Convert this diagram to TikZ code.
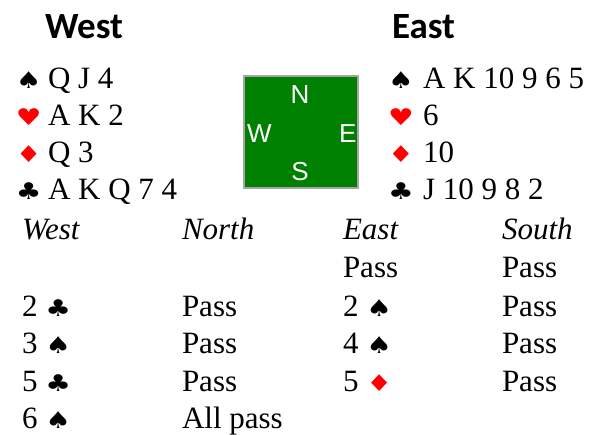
\documentclass[tikz,border=0pt]{standalone}
\usepackage{fontspec}
\setmainfont{Liberation Serif}
\newfontfamily\headfont{Carlito}
\newfontfamily\compassfont{Liberation Sans}
\newfontfamily\suitfont{DejaVu Sans}
\usepackage{graphicx}
\usepackage{xcolor}
\usepackage{tikz}
\usetikzlibrary{positioning}
\definecolor{TableGreen}{HTML}{008000}
\definecolor{SuitRed}{HTML}{FF0000}
\newcommand{\suitglyph}[1]{\scalebox{1.3}[1.05]{\suitfont\fontsize{22}{24}\selectfont #1}}
\newcommand{\Sp}{\suitglyph{♠}}
\newcommand{\He}{{\color{SuitRed}\suitglyph{♥}}}
\newcommand{\Di}{{\color{SuitRed}\suitglyph{♦}}}
\newcommand{\Cl}{\suitglyph{♣}}

\begin{document}
\begin{tikzpicture}[
  x=1pt,y=-1pt,
  every node/.style={inner sep=0pt,outer sep=0pt},
  handhead/.style={anchor=base west,font=\headfont\bfseries\fontsize{37}{40}\selectfont},
  suitsym/.style={anchor=base west},
  cardrow/.style={anchor=base west,font=\rmfamily\fontsize{31}{37}\selectfont},
  seatlabel/.style={anchor=base west,font=\rmfamily\itshape\fontsize{31}{37}\selectfont},
  bidtext/.style={anchor=base west,font=\rmfamily\fontsize{31}{37}\selectfont},
  compass/.style={text=white,font=\compassfont\fontsize{26}{30}\selectfont}
]
  \useasboundingbox (0,0) rectangle (601,434);
  % hands
  \node[handhead] (westhead) at (45,38) {West};
  \node[handhead] (easthead) at (392,38) {East};
  \node[suitsym] (wsps) at (16,88) {\Sp};
  \node[cardrow] (wspc) at (48,88) {Q J 4};
  \node[suitsym] (whes) at (16,125) {\He};
  \node[cardrow] (whec) at (48,125) {A K 2};
  \node[suitsym] (wdis) at (16,162) {\Di};
  \node[cardrow] (wdic) at (48,162) {Q 3};
  \node[suitsym] (wcls) at (16,199) {\Cl};
  \node[cardrow] (wclc) at (48,199) {A K Q 7 4};
  \node[suitsym] (esps) at (388,88) {\Sp};
  \node[cardrow] (espc) at (423,88) {A K 10 9 6 5};
  \node[suitsym] (ehes) at (388,125) {\He};
  \node[cardrow] (ehec) at (423,125) {6};
  \node[suitsym] (edis) at (388,162) {\Di};
  \node[cardrow] (edic) at (423,162) {10};
  \node[suitsym] (ecls) at (388,199) {\Cl};
  \node[cardrow] (eclc) at (423,199) {J 10 9 8 2};
  % table
  \node[draw=black!35,line width=1.2pt,fill=TableGreen,minimum width=114pt,minimum height=112pt] (tbl) at (301,132) {};
  \node[compass,anchor=base] (north) at (300,103) {N};
  \node[compass,anchor=base west] (west) at (247,142) {W};
  \node[compass,anchor=base west] (east) at (339,142) {E};
  \node[compass,anchor=base] (south) at (300,180) {S};
  % auction
  \node[seatlabel] (hw) at (22,239) {West};
  \node[seatlabel] (hn) at (182,239) {North};
  \node[seatlabel] (he) at (343,239) {East};
  \node[seatlabel] (hs) at (502,239) {South};
  \node[bidtext] (e1) at (343,277) {Pass};
  \node[bidtext] (s1) at (502,277) {Pass};
  \node[bidtext] (w2) at (22,316) {2 \Cl};
  \node[bidtext] (n2) at (182,316) {Pass};
  \node[bidtext] (e2) at (343,316) {2 \Sp};
  \node[bidtext] (s2) at (502,316) {Pass};
  \node[bidtext] (w3) at (22,353) {3 \Sp};
  \node[bidtext] (n3) at (182,353) {Pass};
  \node[bidtext] (e3) at (343,353) {4 \Sp};
  \node[bidtext] (s3) at (502,353) {Pass};
  \node[bidtext] (w4) at (22,391) {5 \Cl};
  \node[bidtext] (n4) at (182,391) {Pass};
  \node[bidtext] (e4) at (343,391) {5 \Di};
  \node[bidtext] (s4) at (502,391) {Pass};
  \node[bidtext] (w5) at (22,428) {6 \Sp};
  \node[bidtext] (n5) at (182,428) {All pass};
\end{tikzpicture}
\end{document}
